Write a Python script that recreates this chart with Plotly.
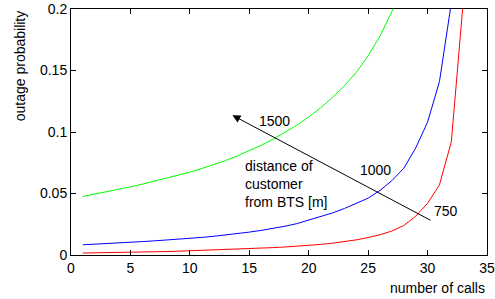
import plotly.graph_objects as go

calls = list(range(1, 34))

p_1500 = [0.0476, 0.0494, 0.0513, 0.0533, 0.0554, 0.0576, 0.0599, 0.0623, 0.0648,
          0.0674, 0.0703, 0.0734, 0.0768, 0.0806, 0.0847, 0.0892, 0.0941, 0.0995,
          0.1055, 0.1122, 0.1197, 0.1281, 0.1376, 0.1484, 0.1620, 0.1780, 0.1980,
          0.2220]
p_1000 = [0.0083, 0.0087, 0.0092, 0.0097, 0.0103, 0.0109, 0.0115, 0.0121, 0.0128,
          0.0135, 0.0143, 0.0152, 0.0162, 0.0173, 0.0186, 0.0200, 0.0216, 0.0234,
          0.0255, 0.0283, 0.0310, 0.0342, 0.0378, 0.0418, 0.0462, 0.0525, 0.0605,
          0.0705, 0.0870, 0.1080, 0.1410, 0.2050]
p_750 = [0.0016, 0.0017, 0.0019, 0.0020, 0.0022, 0.0024, 0.0026, 0.0028, 0.0031,
         0.0034, 0.0037, 0.0040, 0.0043, 0.0047, 0.0051, 0.0055, 0.0060, 0.0065,
         0.0071, 0.0078, 0.0086, 0.0096, 0.0108, 0.0123, 0.0142, 0.0165, 0.0195,
         0.0240, 0.0315, 0.0420, 0.0570, 0.0920, 0.2060]

x_ticks = [0, 5, 10, 15, 20, 25, 30, 35]
y_ticks = [0, 0.05, 0.1, 0.15, 0.2]
y_tick_labels = ["0", "0.05", "0.1", "0.15", "0.2"]

FONT = "Liberation Sans, Arial, sans-serif"

fig = go.Figure()
fig.add_trace(go.Scatter(x=calls[:len(p_1500)], y=p_1500, mode="lines",
                         line=dict(color="#00ff00", width=1), hoverinfo="skip"))
fig.add_trace(go.Scatter(x=calls[:len(p_1000)], y=p_1000, mode="lines",
                         line=dict(color="#0000ff", width=1), hoverinfo="skip"))
fig.add_trace(go.Scatter(x=calls[:len(p_750)], y=p_750, mode="lines",
                         line=dict(color="#ff0000", width=1), hoverinfo="skip"))

annotations = [
    dict(x=13.58, y=0.1136, ax=30.37, ay=0.0276, xref="x", yref="y", axref="x", ayref="y",
         showarrow=True, arrowhead=2, arrowsize=1.6, arrowwidth=1, arrowcolor="black", text=""),
    dict(x=17.15, y=0.109, xref="x", yref="y", text="1500", showarrow=False),
    dict(x=25.63, y=0.0693, xref="x", yref="y", text="1000", showarrow=False),
    dict(x=31.55, y=0.0355, xref="x", yref="y", text="750", showarrow=False),
    dict(x=14.47, y=0.0576, xref="x", yref="y", xanchor="left", align="left",
         text="distance of<br>customer<br>from BTS [m]", showarrow=False),
    dict(x=1.0, y=-0.095, xref="paper", yref="paper", xanchor="right", yanchor="top",
         text="number of calls", showarrow=False),
    dict(x=-0.1226, y=1.005, xref="paper", yref="paper", xanchor="center", yanchor="top",
         text="outage probability", textangle=-90, showarrow=False),
]

fig.update_layout(
    width=495, height=299,
    margin=dict(l=71, r=8, t=9, b=44, autoexpand=False),
    paper_bgcolor="white", plot_bgcolor="white",
    showlegend=False,
    font=dict(family=FONT, size=14, color="black"),
    annotations=annotations,
)
fig.update_xaxes(range=[0, 35], tickvals=x_ticks, ticks="inside", ticklen=5,
                 showgrid=False, zeroline=False, showline=True, linecolor="black",
                 linewidth=1, mirror="allticks", tickcolor="black",
                 tickfont=dict(size=14), automargin=False)
fig.update_yaxes(range=[0, 0.2], tickvals=y_ticks, ticktext=y_tick_labels,
                 ticks="inside", ticklen=5,
                 showgrid=False, zeroline=False, showline=True, linecolor="black",
                 linewidth=1, mirror="allticks", tickcolor="black",
                 tickfont=dict(size=14), automargin=False)

fig.write_html("out.html", config={"displayModeBar": False, "staticPlot": True},
               post_script="document.body.style.margin='0';document.body.style.overflow='hidden';")
